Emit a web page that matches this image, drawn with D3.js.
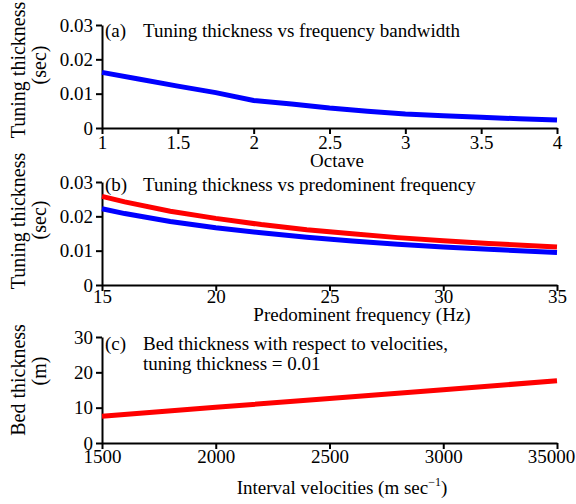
<!DOCTYPE html>
<html>
<head>
<meta charset="utf-8">
<script src="https://cdn.jsdelivr.net/npm/d3@7"></script>
<style>
  body { margin: 0; background: #fff; }
</style>
</head>
<body>
<div id="chart"></div>
<script>
// panel (a)
var octave = [1, 1.25, 1.5, 1.75, 2, 2.25, 2.5, 2.75, 3, 3.25, 3.5, 3.75, 4];
var tuningOctave = [0.0162, 0.0142, 0.0122, 0.0103, 0.0080, 0.0070, 0.0058, 0.0049, 0.0041, 0.0036, 0.0031, 0.0027, 0.0023];
var octaveTicks = [1, 1.5, 2, 2.5, 3, 3.5, 4];

// panel (b)
var freq = [15, 16, 18, 20, 22, 24, 26, 28, 30, 32, 35];
var tuningBlue = [0.0222, 0.0208, 0.0185, 0.0167, 0.0152, 0.0139, 0.0128, 0.0119, 0.0111, 0.0104, 0.0095];
var tuningRed = [0.0258, 0.0242, 0.0215, 0.0194, 0.0176, 0.0161, 0.0149, 0.0138, 0.0129, 0.0121, 0.0111];
var freqTicks = [15, 20, 25, 30, 35];

// panel (c)
var velocity = [1500, 2000, 2500, 3000, 3500];
var bedThickness = [7.6, 10.1, 12.6, 15.1, 17.6];
var velocityTicks = [1500, 2000, 2500, 3000, 3500];
var velocityTickLabels = ["1500", "2000", "2500", "3000", "35000"];

var tuningTicks = [0, 0.01, 0.02, 0.03];
var bedTicks = [0, 10, 20, 30];

var FONT = "Liberation Serif";
var W = 576, H = 504;
var svg = d3.select("#chart").append("svg")
    .attr("width", W)
    .attr("height", H);

var left = 102, right = 557;

function txt(x, y, size, s) {
    return svg.append("text")
        .attr("x", x)
        .attr("y", y)
        .attr("font-family", FONT)
        .attr("font-size", size)
        .text(s);
}

function panel(opt) {
    var x = d3.scaleLinear().domain(opt.xDomain).range([left, right]);
    var y = d3.scaleLinear().domain(opt.yDomain).range([opt.bottom, opt.top]);

    var xAxis = d3.axisBottom(x).tickValues(opt.xTicks).tickSize(6).tickSizeOuter(0)
        .tickFormat(opt.xFormat);
    var gx = svg.append("g")
        .attr("transform", "translate(0," + opt.bottom + ")")
        .call(xAxis);
    gx.select(".domain").attr("stroke-width", 2);
    gx.selectAll(".tick line").attr("stroke-width", 2);
    gx.selectAll(".tick text")
        .attr("font-family", FONT).attr("font-size", 19)
        .attr("dy", "0.8em").attr("y", opt.tickPad);
    // the long last label of panel (c) sits a little left of its tick
    if (opt.lastLabelShift) {
        gx.selectAll(".tick text").filter(function (d, i, n) { return i === n.length - 1; })
            .attr("dx", opt.lastLabelShift);
    }

    var yAxis = d3.axisLeft(y).tickValues(opt.yTicks).tickSize(6).tickSizeOuter(0)
        .tickFormat(opt.yFormat);
    var gy = svg.append("g")
        .attr("transform", "translate(" + left + ",0)")
        .call(yAxis);
    gy.select(".domain").attr("stroke-width", 2);
    gy.selectAll(".tick line").attr("stroke-width", 2);
    gy.selectAll(".tick text")
        .attr("font-family", FONT).attr("font-size", 19)
        .attr("x", -9).attr("dy", "0.32em");

    opt.series.forEach(function (s) {
        var line = d3.line()
            .x(function (d, i) { return x(opt.xs[i]); })
            .y(function (d) { return y(d); });
        svg.append("path")
            .datum(s.values)
            .attr("d", line)
            .attr("fill", "none")
            .attr("stroke", s.color)
            .attr("stroke-width", 5);
    });

    // panel title
    var ty = opt.top + opt.titleDy;
    txt(left + 3, ty, 19, opt.title[0]);
    txt(left + 41, ty, 19, opt.title[1]);
    if (opt.title2) txt(left + 41, ty + 20, 19, opt.title2);

    // x label
    var xl = txt(opt.xLabelX, opt.xLabelY, 19, opt.xLabel).attr("text-anchor", "middle");
    if (opt.xLabelSup) {
        xl.append("tspan").attr("dy", -8).attr("font-size", 12).text(opt.xLabelSup);
        xl.append("tspan").attr("dy", 8).text(")");
    }

    // y label, two rotated lines
    [25, 46].forEach(function (lx, i) {
        txt(0, 0, 20, opt.yLabel[i])
            .attr("transform", "translate(" + lx + "," + opt.yLabelY[i] + ") rotate(-90)")
            .attr("text-anchor", "middle");
    });
}

var fmtTune = function (d) { return d === 0 ? "0" : d3.format(".2f")(d); };

panel({
    xs: octave, xDomain: [1, 4], xTicks: octaveTicks, xFormat: function (d) { return String(d); },
    yDomain: [0, 0.03], yTicks: tuningTicks, yFormat: fmtTune,
    top: 25, bottom: 128, tickPad: 6,
    series: [{ values: tuningOctave, color: "#0000ff" }],
    title: ["(a)", "Tuning thickness vs frequency bandwidth"], titleDy: 12,
    xLabel: "Octave", xLabelX: 337, xLabelY: 167,
    yLabel: ["Tuning thickness", "(sec)"], yLabelY: [70, 65]
});

panel({
    xs: freq, xDomain: [15, 35], xTicks: freqTicks, xFormat: function (d) { return String(d); },
    yDomain: [0, 0.03], yTicks: tuningTicks, yFormat: fmtTune,
    top: 182, bottom: 285, tickPad: 3,
    series: [{ values: tuningRed, color: "#ff0000" }, { values: tuningBlue, color: "#0000ff" }],
    title: ["(b)", "Tuning thickness vs predominent frequency"], titleDy: 9,
    xLabel: "Predominent frequency (Hz)", xLabelX: 362, xLabelY: 321,
    yLabel: ["Tuning thickness", "(sec)"], yLabelY: [221, 220]
});

panel({
    xs: velocity, xDomain: [1500, 3500], xTicks: velocityTicks,
    xFormat: function (d, i) { return velocityTickLabels[i]; },
    lastLabelShift: -6, tickPad: 5,
    yDomain: [0, 30], yTicks: bedTicks, yFormat: function (d) { return String(d); },
    top: 337, bottom: 443,
    series: [{ values: bedThickness, color: "#ff0000" }],
    title: ["(c)", "Bed thickness with respect to velocities,"], titleDy: 13,
    title2: "tuning thickness = 0.01",
    xLabel: "Interval velocities (m sec", xLabelSup: "\u22121", xLabelX: 342, xLabelY: 494,
    yLabel: ["Bed thickness", "(m)"], yLabelY: [380, 371]
});
</script>
</body>
</html>
